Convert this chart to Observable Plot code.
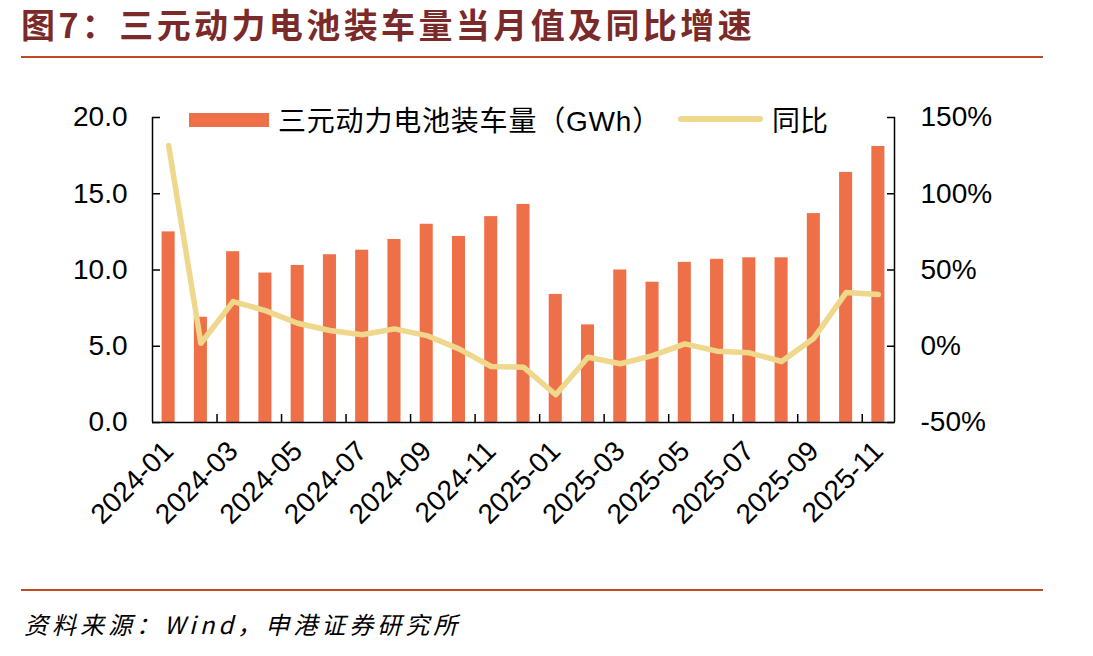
<!DOCTYPE html>
<html><head><meta charset="utf-8">
<script src="https://cdn.jsdelivr.net/npm/d3@7"></script>
<script src="https://cdn.jsdelivr.net/npm/@observablehq/plot@0.6"></script>
<style>
body{margin:0;background:#fff;}
#wrap{position:relative;width:1093px;height:656px;overflow:hidden;background:#fff;}
#title{position:absolute;left:21px;top:7px;font-family:"Noto Sans CJK SC";font-weight:700;font-size:34px;line-height:1;color:#7B2A2A;letter-spacing:3.4px;white-space:nowrap;}
.rule{position:absolute;left:21px;width:1022px;height:2px;background:#BF4A24;}
#caption{position:absolute;left:24px;top:612px;font-family:"Noto Sans CJK SC";font-style:italic;font-size:24px;line-height:1;letter-spacing:4px;white-space:nowrap;color:#000;}
#chart{position:absolute;left:0;top:0;}
.leg{position:absolute;font-family:"Noto Sans CJK SC","Liberation Sans";font-size:28px;line-height:1;white-space:nowrap;color:#000;}
.sw{position:absolute;}
</style></head>
<body>
<div id="wrap">
  <div id="title">图7：三元动力电池装车量当月值及同比增速</div>
  <div class="rule" style="top:56px"></div>
  <div id="chart"></div>
  <div class="sw" style="left:189px;top:113px;width:80px;height:14px;background:#EE7049"></div>
  <div class="leg" style="left:278px;top:105px;letter-spacing:0.8px">三元动力电池装车量（<span style="font-family:'Liberation Sans'">GWh</span>）</div>
  <div class="sw" style="left:678px;top:116px;width:85px;height:6px;border-radius:3px;background:#EFD78B"></div>
  <div class="leg" style="left:772px;top:105px">同比</div>
  <div class="rule" style="top:589px"></div>
  <div id="caption">资料来源：Wind，申港证券研究所</div>
</div>
<script>
const months = ["2024-01","2024-02","2024-03","2024-04","2024-05","2024-06","2024-07","2024-08","2024-09","2024-10","2024-11","2024-12",
  "2025-01","2025-02","2025-03","2025-04","2025-05","2025-06","2025-07","2025-08","2025-09","2025-10","2025-11"];
const volume = [12.5,6.9,11.2,9.8,10.3,11.0,11.3,12.0,13.0,12.2,13.5,14.3,8.4,6.4,10.0,9.2,10.5,10.7,10.8,10.8,13.7,16.4,18.1];
const yoy = [131.6,2.0,29.3,23.4,15.1,10.3,7.5,11.4,7.0,-1.7,-13.3,-13.7,-31.8,-7.2,-11.5,-6.1,1.6,-3.2,-4.3,-10.0,5.3,35.2,33.9];
const leftTicks = [0,5,10,15,20];
const leftTickLabels = ["0.0","5.0","10.0","15.0","20.0"];
const rightTicks = [-50,0,50,100,150];
const rightTickLabels = ["-50%","0%","50%","100%","150%"];
const xTickLabels = ["2024-01","2024-03","2024-05","2024-07","2024-09","2024-11","2025-01","2025-03","2025-05","2025-07","2025-09","2025-11"];

const rMin = rightTicks[0], rMax = rightTicks[rightTicks.length-1];
const lMax = leftTicks[leftTicks.length-1];
const toLeft = p => (p - rMin) / (rMax - rMin) * lMax;

const data = months.map((m, i) => ({m, i, v: volume[i], r: yoy[i]}));
const n = months.length;
const labelPos = xTickLabels.map(l => months.indexOf(l) + 0.5);
const boundaryTicks = xTickLabels.map(l => months.indexOf(l)).filter(i => i > 0);

const chart = Plot.plot({
  width: 1093,
  height: 560,
  marginTop: 117,
  marginBottom: 138,
  marginLeft: 152,
  marginRight: 199,
  style: {fontFamily: "'Liberation Sans', Arial, sans-serif", fontSize: "28px", color: "#000", background: "transparent"},
  x: {type: "linear", domain: [0, n], axis: null},
  y: {type: "linear", domain: [0, lMax], axis: null},
  marks: [
    Plot.rectY(data, {x1: d => d.i, x2: d => d.i + 1, y1: 0, y2: "v", insetLeft: 9.6, insetRight: 9.6, fill: "#EE7049"}),
    Plot.line(data, {x: d => d.i + 0.5, y: d => toLeft(d.r), stroke: "#EFD78B", strokeWidth: 5.5, strokeLinejoin: "round", strokeLinecap: "round"}),
    Plot.ruleX([0, n], {y1: 0, y2: lMax, stroke: "#000", strokeWidth: 1.5}),
    Plot.ruleY([0], {x1: 0, x2: n, stroke: "#000", strokeWidth: 1.5}),
    Plot.axisY({anchor: "left", label: null, ticks: leftTicks, tickSize: -8, fill: "none", stroke: "#000", strokeWidth: 1.5}),
    Plot.axisY({anchor: "left", label: null, ticks: leftTicks, tickSize: 0, tickPadding: 25, tickFormat: d => leftTickLabels[leftTicks.indexOf(d)], fill: "#000"}),
    Plot.axisY({anchor: "right", label: null, ticks: rightTicks.map(toLeft), tickSize: -8, fill: "none", stroke: "#000", strokeWidth: 1.5}),
    Plot.axisY({anchor: "right", label: null, ticks: rightTicks.map(toLeft), tickSize: 0, tickPadding: 26, tickFormat: d => rightTickLabels[rightTicks.map(toLeft).indexOf(d)], fill: "#000"}),
    Plot.axisX({anchor: "bottom", label: null, ticks: boundaryTicks, tickSize: -8, fill: "none", stroke: "#000", strokeWidth: 1.5}),
    Plot.axisX({anchor: "bottom", label: null, ticks: labelPos, tickSize: 0, tickPadding: 24, tickRotate: -45, tickFormat: d => months[d - 0.5], fill: "#000"})
  ]
});
document.getElementById("chart").appendChild(chart);
</script>
</body></html>
